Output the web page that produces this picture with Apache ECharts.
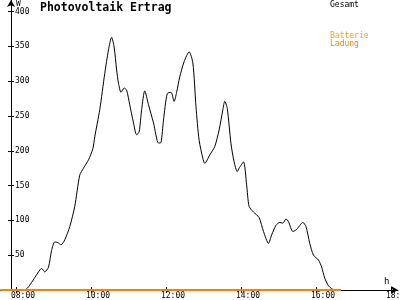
<!DOCTYPE html>
<html><head><meta charset="utf-8">
<script src="https://cdn.jsdelivr.net/npm/echarts@6/dist/echarts.min.js"></script>
<style>html,body{margin:0;padding:0;background:#fff}#c{width:400px;height:300px}</style>
</head><body><div id="c"></div>
<script>
const times = ['08:00','08:14','08:22','08:36','08:41','08:46','08:52','08:57','09:02','09:07','09:12','09:18','09:26','09:34','09:42','09:48','09:56','10:03','10:06','10:14','10:22','10:28','10:33','10:37','10:41','10:44','10:48','10:53','10:57','11:02','11:08','11:13','11:17','11:21','11:26','11:32','11:40','11:48','11:52','11:56','12:02','12:08','12:13','12:17','12:22','12:29','12:37','12:43','12:48','12:53','12:59','13:02','13:10','13:18','13:25','13:31','13:34','13:38','13:44','13:49','13:54','13:57','14:04','14:09','14:13','14:20','14:29','14:36','14:44','14:49','14:56','15:02','15:07','15:12','15:16','15:23','15:29','15:39','15:44','15:50','15:56','16:04','16:09','16:14','16:20','16:25','16:29'];
const gesamt = [0,0,7,26,31,26,33,57,69,68,65,72,91,120,165,175,187,203,220,259,311,345,363,349,316,297,284,290,287,266,240,223,227,259,286,266,240,211,212,244,282,284,271,284,306,328,342,326,263,215,189,182,194,206,230,259,271,261,210,184,170,175,184,151,120,112,104,84,67,79,93,97,96,102,98,84,87,97,91,67,50,43,33,17,6,2,0];
const ladungTimes = ['07:35','16:40'];
const ladung = [0,0];
const batterie = [];
const xTickLabels = ['08:00','10:00','12:00','14:00','16:00','18:00'];
const yTickValues = [50,100,150,200,250,300,350,400];

function toH(t){const p=t.split(':');return +p[0]+(+p[1])/60;}
function fmt(h){const hh=Math.floor(h+1e-6);const mm=Math.round((h-hh)*60);return (hh<10?'0':'')+hh+':'+(mm<10?'0':'')+mm;}
const xTicks = xTickLabels.map(toH);
const font = 'DejaVu Sans Mono';
const xMin = 8 - 16/37.5, xMax = 8 + 382/37.5;
const yMax = 400 + 11.5/0.696;

const chart = echarts.init(document.getElementById('c'), null, {renderer:'canvas'});
chart.setOption({
  animation:false,
  backgroundColor:'#fff',
  title:{text:'Photovoltaik Ertrag',left:40,top:2,padding:0,textStyle:{fontFamily:font,fontWeight:'bold',fontSize:11.5,color:'#000'}},
  legend:[
    {data:[{name:'Gesamt',textStyle:{color:'#000'}}],left:325,top:1,padding:0,itemWidth:0,itemHeight:0,icon:'rect',textStyle:{fontFamily:font,fontSize:8,lineHeight:8}},
    {data:[{name:'Batterie',textStyle:{color:'#ffa500'}},{name:'Ladung',textStyle:{color:'#ff8000'}}],orient:'vertical',left:325,top:32,padding:0,itemGap:0,itemWidth:0,itemHeight:0,icon:'rect',textStyle:{fontFamily:font,fontSize:8,lineHeight:8}}
  ],
  grid:{left:0,right:2,top:0,bottom:10,containLabel:false,outerBoundsMode:'none'},
  xAxis:[
    {type:'value',min:xMin,max:xMax,position:'bottom',
     axisLine:{show:true,lineStyle:{color:'#000',width:1},symbol:['none','arrow'],symbolSize:[6,7]},
     axisTick:{show:true,inside:false,length:3,customValues:xTicks,lineStyle:{color:'#000'}},
     axisLabel:{show:true,customValues:xTicks,formatter:fmt,fontFamily:font,fontSize:8,lineHeight:8,color:'#000',margin:2,padding:[0,0,0,14],align:'center'},
     splitLine:{show:false},
     name:'h',nameLocation:'end',nameGap:-14,nameTextStyle:{fontFamily:font,fontSize:9,lineHeight:9,color:'#000',align:'left',verticalAlign:'bottom',padding:[0,0,4,0]}},
    {type:'value',min:xMin,max:xMax,position:'bottom',
     axisLine:{show:false},
     axisTick:{show:true,inside:true,length:3,customValues:xTicks,lineStyle:{color:'#000'}},
     axisLabel:{show:false},splitLine:{show:false}}
  ],
  yAxis:[
    {type:'value',min:0,max:yMax,position:'left',offset:-11,
     axisLine:{show:true,lineStyle:{color:'#000',width:1},symbol:['none','arrow'],symbolSize:[6,7]},
     axisTick:{show:true,inside:false,length:3,customValues:yTickValues,lineStyle:{color:'#000'}},
     axisLabel:{show:true,inside:true,customValues:yTickValues,fontFamily:font,fontSize:8,color:'#000',margin:4},
     splitLine:{show:false},
     name:'W',nameLocation:'end',nameGap:-9,nameTextStyle:{fontFamily:font,fontSize:8,color:'#000',align:'left',verticalAlign:'bottom',padding:[0,0,0,5]}},
    {type:'value',min:0,max:yMax,position:'left',offset:-11,
     axisLine:{show:false},
     axisTick:{show:true,inside:true,length:3,customValues:yTickValues,lineStyle:{color:'#000'}},
     axisLabel:{show:false},splitLine:{show:false}}
  ],
  series:[
    {name:'Gesamt',type:'line',xAxisIndex:0,yAxisIndex:0,showSymbol:false,symbol:'none',smooth:0.25,
     color:'#000',lineStyle:{color:'#000',width:1},
     data:times.map((t,i)=>[toH(t),gesamt[i]])},
    {name:'Batterie',type:'line',showSymbol:false,symbol:'none',color:'#ffa500',lineStyle:{color:'#ffa500',width:2},data:batterie},
    {name:'Ladung',type:'line',showSymbol:false,symbol:'none',color:'#ff8000',lineStyle:{color:'#ff8000',width:2},z:5,
     data:ladungTimes.map((t,i)=>[toH(t),ladung[i]])}
  ]
});
</script></body></html>
